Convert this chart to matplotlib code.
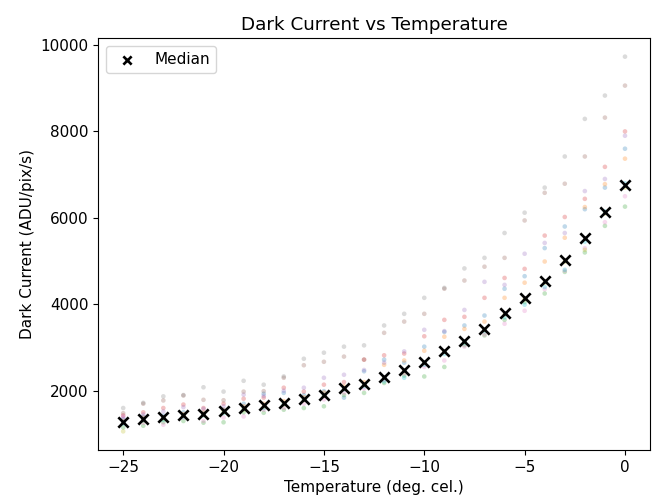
import numpy as np
import matplotlib.pyplot as plt

temps = np.arange(-25, 1)

# per-sensor dark current readings (ADU/pix/s), one value per temperature
gray = [1600, 1720, 1870, 1900, 2080, 1980, 2230, 2140, 2330, 2740, 2880, 3020, 3050,
        3510, 3780, 4150, 4380, 4830, 5075, 5650, 6120, 6700, 7420, 8290, 8830, 9730]
brown = [1480, 1700, 1775, 1890, 1790, 1780, 1980, 1990, 2300, 2590, 2670, 2790, 2720,
         3340, 3600, 3780, 4360, 4550, 4870, 5075, 5940, 6580, 6790, 7420, 8320, 9060]
purple = [1380, 1450, 1520, 1620, 1580, 1640, 1910, 1880, 2000, 2070, 2300, 2370, 2480,
          2650, 2910, 3410, 3380, 3870, 4520, 4450, 5170, 5420, 5650, 6620, 6900, 7900]
red = [1430, 1500, 1600, 1680, 1600, 1700, 1815, 1840, 2070, 1980, 2140, 2200, 2720,
       2820, 2860, 3260, 3640, 3710, 4150, 4610, 4820, 5590, 6020, 6440, 7180, 8000]
blue = [1340, 1400, 1420, 1500, 1480, 1560, 1700, 1930, 1950, 1900, 1990, 1840, 2450,
        2720, 2650, 3020, 3360, 3510, 3740, 4360, 4650, 5300, 5800, 6200, 6700, 7600]
orange = [1300, 1380, 1380, 1460, 1500, 1560, 1640, 1700, 1760, 1850, 1960, 2100, 2200,
          2600, 2700, 2925, 3250, 3430, 3600, 4150, 4500, 4990, 5540, 6250, 6780, 7370]
olive = [1060, 1300, 1350, 1420, 1440, 1500, 1560, 1620, 1680, 1780, 1880, 2040, 2130,
         2300, 2450, 2640, 2900, 3120, 3400, 3760, 4120, 4500, 4980, 5260, 6100, 6700]
cyan = [1240, 1310, 1330, 1400, 1430, 1480, 1580, 1600, 1690, 1800, 1890, 2030, 2100,
        2215, 2300, 2600, 2850, 3100, 3380, 3700, 3990, 4400, 4800, 5450, 6150, 6800]
pink = [1410, 1260, 1215, 1380, 1300, 1380, 1405, 1560, 1600, 1700, 1800, 1950, 2050,
        2250, 2400, 2550, 2700, 3020, 3300, 3550, 3850, 4350, 4780, 5300, 5900, 6500]
green = [1150, 1190, 1270, 1300, 1260, 1270, 1500, 1490, 1560, 1600, 1640, 1900, 1950,
         2180, 2350, 2330, 2550, 3050, 3280, 3640, 4050, 4250, 4750, 5200, 5815, 6260]

median = [1280, 1350, 1400, 1445, 1470, 1540, 1600, 1680, 1720, 1815, 1910, 2070, 2160,
          2320, 2485, 2670, 2925, 3155, 3435, 3800, 4150, 4545, 5030, 5540, 6140, 6760]

sensors = [blue, orange, green, red, purple, brown, pink, gray, olive, cyan]

plt.rcParams['font.size'] = 11

fig = plt.figure(figsize=(6.54, 4.99), dpi=100)
ax = fig.add_axes([0.150, 0.098, 0.844, 0.826])

for vals in sensors:
    ax.scatter(temps, vals, s=11, alpha=0.28, edgecolors='none')

ax.scatter(temps, median, marker='x', color='black', s=55, linewidths=1.9, label='Median')

ax.set_title('Dark Current vs Temperature')
ax.set_xlabel('Temperature (deg. cel.)')
ax.set_ylabel('Dark Current (ADU/pix/s)')
ax.legend(loc='upper left', markerscale=0.8)

plt.savefig('out.png')
